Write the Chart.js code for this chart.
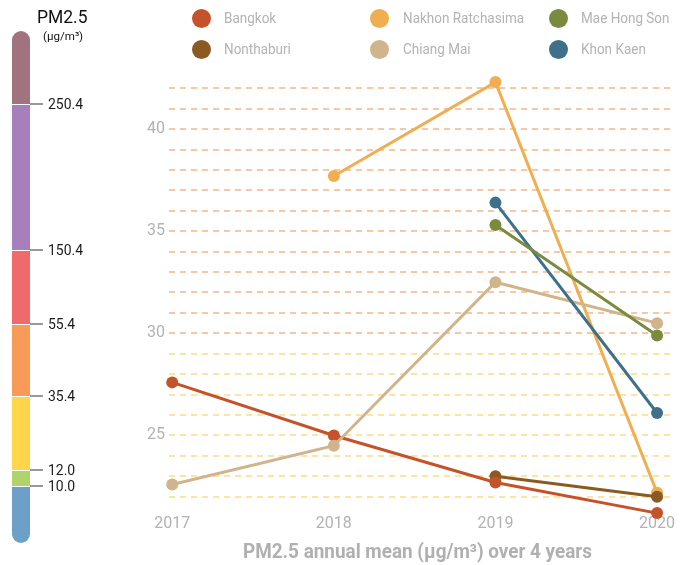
<!DOCTYPE html>
<html>
<head>
<meta charset="utf-8">
<script src="https://cdn.jsdelivr.net/npm/chart.js@4.4.1/dist/chart.umd.min.js"></script>
<style>
html,body{margin:0;padding:0;background:#fff;}
#wrap{position:relative;width:685px;height:565px;overflow:hidden;font-family:Roboto,"Noto Sans",sans-serif;}
#chart{position:absolute;left:0;top:0;}
.dot{position:absolute;width:19px;height:19px;border-radius:50%;}
.lt{position:absolute;font-size:15px;line-height:18px;color:#b3b3b3;white-space:nowrap;transform-origin:0 50%;transform:scaleX(0.9);}
#bar{position:absolute;left:12px;top:31px;width:18px;height:512px;border-radius:9px;overflow:hidden;}
.seg{position:absolute;left:0;width:18px;}
.sep{position:absolute;left:0;width:18px;height:1px;background:#fff;}
.tk{position:absolute;left:30px;width:13px;height:1.5px;background:#9a9a9a;}
.bl{position:absolute;left:48px;font-size:15.5px;line-height:18px;color:#1a1a1a;transform-origin:0 50%;transform:scaleX(0.9);}
#h1{position:absolute;left:37px;top:6px;font-size:19px;line-height:22px;color:#111;transform-origin:0 50%;transform:scaleX(0.92);}
#h2{position:absolute;left:43px;top:30px;font-size:11px;line-height:13px;color:#111;transform-origin:0 50%;transform:scaleX(1.05);}
#xt{position:absolute;top:540px;font-size:19.5px;line-height:24px;font-weight:bold;color:#b0b0b0;white-space:nowrap;transform-origin:0 50%;}
</style>
</head>
<body>
<div id="wrap">
  <canvas id="chart" width="685" height="565"></canvas>
  <div id="h1">PM2.5</div>
  <div id="h2">(µg/m³)</div>
  <div id="bar"></div>
  <div id="xt"></div>
</div>
<script>
// ---------- data ----------
const years = [2017, 2018, 2019, 2020];
const cityNames = ['Bangkok', 'Nonthaburi', 'Nakhon Ratchasima', 'Chiang Mai', 'Mae Hong Son', 'Khon Kaen'];
const bangkok          = [27.6, 25.0, 22.7, 21.2];
const nonthaburi       = [null, null, 23.0, 22.0];
const nakhonRatchasima = [null, 37.7, 42.3, 22.2];
const chiangMai        = [22.6, 24.5, 32.5, 30.5];
const maeHongSon       = [null, null, 35.3, 29.9];
const khonKaen         = [null, null, 36.4, 26.1];
const yTickLabels = [25, 30, 35, 40];
const pmBreakLabels = ['250.4', '150.4', '55.4', '35.4', '12.0', '10.0'];
const xTitle = 'PM2.5 annual mean (µg/m³) over 4 years';

// ---------- styles / layout ----------
const cityColors = ['#c4532b', '#8b5a23', '#f0ae50', '#d0b48b', '#7b8b3d', '#3f7089'];
const cityOrder  = [3, 4, 5, 2, 0, 1];
const seriesValues = [bangkok, nonthaburi, nakhonRatchasima, chiangMai, maeHongSon, khonKaen];
// legend grid: column-major, 3 columns x 2 rows
const legDotX = [201, 379, 558], legTextX = [224, 403, 581], legRowY = [18, 49];
// color bar segment boundaries (px within the bar) and colors, top to bottom
const barBreakY = [73, 219, 293, 365, 439, 455];
const barColors = ['#a1737f', '#a77fbd', '#f16a6b', '#f89b59', '#fed54b', '#afd46b', '#6d9fc8'];

const wrap = document.getElementById('wrap');
cityNames.forEach((name, i) => {
  const col = Math.floor(i / 2), row = i % 2;
  const d = document.createElement('div');
  d.className = 'dot';
  d.style.left = (legDotX[col] - 9.5) + 'px';
  d.style.top = (legRowY[row] - 9.5) + 'px';
  d.style.background = cityColors[i];
  wrap.appendChild(d);
  const t = document.createElement('div');
  t.className = 'lt';
  t.textContent = name;
  t.style.left = legTextX[col] + 'px';
  t.style.top = (legRowY[row] - 9) + 'px';
  wrap.appendChild(t);
});

const bar = document.getElementById('bar');
const edges = [0, ...barBreakY, 512];
barColors.forEach((c, i) => {
  const s = document.createElement('div');
  s.className = 'seg';
  s.style.top = edges[i] + 'px';
  s.style.height = (edges[i + 1] - edges[i]) + 'px';
  s.style.background = c;
  bar.appendChild(s);
});
barBreakY.forEach((y, i) => {
  const sp = document.createElement('div');
  sp.className = 'sep';
  sp.style.top = (y - 0.5) + 'px';
  bar.appendChild(sp);
  const tk = document.createElement('div');
  tk.className = 'tk';
  tk.style.top = (31 + y - 0.75) + 'px';
  wrap.appendChild(tk);
  const bl = document.createElement('div');
  bl.className = 'bl';
  bl.textContent = pmBreakLabels[i];
  bl.style.top = (31 + y - 9.5) + 'px';
  wrap.appendChild(bl);
});

const xt = document.getElementById('xt');
xt.textContent = xTitle;
const xtW = xt.getBoundingClientRect().width;
const xtTarget = 349, xtCenter = 417.5;
const xtScale = xtTarget / xtW;
xt.style.left = (xtCenter - xtTarget / 2) + 'px';
xt.style.transform = 'scaleX(' + xtScale + ')';

// ---------- chart ----------
const datasets = cityNames.map((name, i) => ({
  label: name,
  data: years.map((yr, j) => ({ x: yr, y: seriesValues[i][j] })).filter(p => p.y !== null),
  borderColor: cityColors[i],
  backgroundColor: cityColors[i],
  pointBackgroundColor: cityColors[i],
  pointBorderWidth: 0,
  pointRadius: 6,
  borderWidth: 3,
  tension: 0,
  order: cityOrder[i],
  clip: false
}));

new Chart(document.getElementById('chart'), {
  type: 'line',
  data: { datasets },
  options: {
    responsive: false,
    animation: false,
    devicePixelRatio: 1,
    layout: { padding: { top: 77, right: 15, left: 0, bottom: 0 } },
    plugins: { legend: { display: false }, tooltip: { enabled: false } },
    scales: {
      x: {
        type: 'linear',
        min: 2016.98,
        max: 2020.08,
        grid: { display: false },
        border: { display: false },
        afterBuildTicks: s => { s.ticks = years.map(v => ({ value: v })); },
        afterFit: s => { s.height = 57; },
        ticks: {
          autoSkip: false, maxRotation: 0, padding: -2,
          callback: v => String(v),
          color: '#b3b3b3',
          font: { family: 'Roboto', size: 16 }
        }
      },
      y: {
        min: 21.45,
        max: 42.55,
        afterFit: s => { s.width = 169; },
        border: { display: false, dash: [6, 5] },
        grid: {
          drawTicks: false,
          lineWidth: 2,
          color: c => (c.tick && c.tick.value >= 30) ? '#f8c8a6' : '#fde4a3'
        },
        ticks: {
          stepSize: 1,
          includeBounds: false,
          autoSkip: false,
          padding: 4,
          callback: v => yTickLabels.includes(Math.round(v * 1000) / 1000) ? String(v) : '',
          color: '#b3b3b3',
          font: { family: 'Roboto', size: 16 }
        }
      }
    }
  }
});
</script>
</body>
</html>
